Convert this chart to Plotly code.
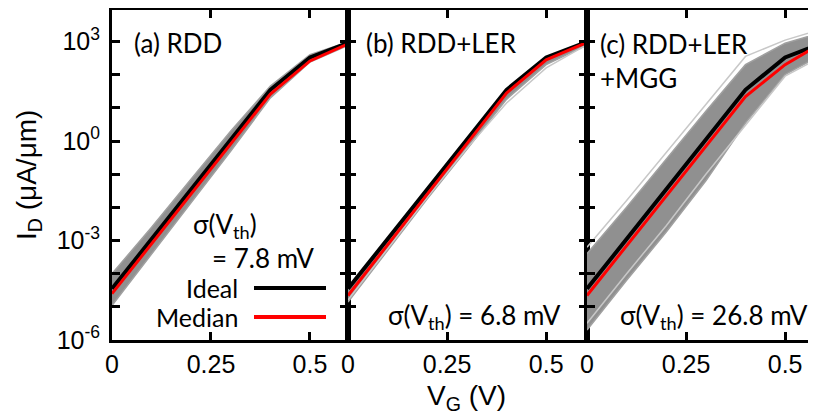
import plotly.graph_objects as go
from plotly.subplots import make_subplots

# Gate voltage (V)
vg = [0.0, 0.1, 0.2, 0.3, 0.4, 0.5, 0.6]

# Drain current (uA/um)
ideal = [3.5e-5, 1.1e-3, 3.5e-2, 1.1, 35, 330, 950]

median_a = [2.5e-5, 7.9e-4, 2.5e-2, 0.79, 26, 260, 890]
median_b = [2.2e-5, 7.6e-4, 2.5e-2, 0.83, 28, 280, 910]
median_c = [2.2e-5, 7.1e-4, 2.2e-2, 0.71, 22, 200, 1000]

band_a_upper = [1.0e-4, 2.5e-3, 7.1e-2, 2.0, 45, 400, 1000]
band_a_lower = [1.1e-5, 4.0e-4, 1.4e-2, 0.5, 20, 240, 800]

band_b_upper = [3.2e-5, 1.1e-3, 3.8e-2, 1.2, 35, 330, 950]
band_b_lower = [1.4e-5, 5.0e-4, 1.8e-2, 0.56, 18, 200, 760]
edge_b_lower = [1.6e-5, 5.6e-4, 2.0e-2, 0.6, 14, 160, 760]

band_c_upper = [4.0e-4, 1.0e-2, 0.28, 7.9, 200, 890, 2000]
band_c_lower = [2.0e-6, 6.3e-5, 1.8e-3, 6.3e-2, 3.5, 100, 450]
edge_c_upper = [6.3e-4, 1.6e-2, 0.45, 12.6, 355, 1100, 2500]
edge_c_lower = [3.2e-6, 1.0e-4, 2.8e-3, 0.1, 3.0, 90, 400]

panel_titles = ["(a) RDD", "(b) RDD+LER", "(c) RDD+LER<br>+MGG"]
sigma_vth = ["7.8", "6.8", "26.8"]

y_major_vals = [1e-6, 1e-3, 1, 1e3]
y_major_text = ["10<sup>-6</sup>", "10<sup>-3</sup>", "10<sup>0</sup>", "10<sup>3</sup>"]
y_minor_vals = [1e-5, 1e-4, 1e-2, 1e-1, 10, 100, 1e4]
x_tickvals = [0, 0.25, 0.5]
x_ticktext = ["0", "0.25", "0.5"]

# page has an 8px body margin; figure is sized so the plot lands where the reference has it
OFF = 8
W, H = 816 - OFF, 414 - OFF
L, R, T, B = 112 - OFF, 0, 10 - OFF, 414 - 340
PW, PH = W - L - R, H - T - B

def px(x):
    return (x - OFF - L) / PW

def py(y):
    return (H - B - (y - OFF)) / PH

fig = make_subplots(rows=1, cols=3, horizontal_spacing=0)

panels = [
    (median_a, band_a_upper, band_a_lower, []),
    (median_b, band_b_upper, band_b_lower, [edge_b_lower]),
    (median_c, band_c_upper, band_c_lower, [edge_c_upper, edge_c_lower]),
]

for i, (med, up, lo, edges) in enumerate(panels):
    col = i + 1
    fig.add_trace(go.Scatter(x=vg, y=lo, mode="lines", line=dict(color="#a0a0a0", width=1.5),
                             showlegend=False, hoverinfo="skip"), row=1, col=col)
    fig.add_trace(go.Scatter(x=vg, y=up, mode="lines", line=dict(color="#a0a0a0", width=1.5),
                             fill="tonexty", fillcolor="#909090",
                             showlegend=False, hoverinfo="skip"), row=1, col=col)
    for e in edges:
        fig.add_trace(go.Scatter(x=vg, y=e, mode="lines", line=dict(color="#c8c8c8", width=1.5),
                                 showlegend=False, hoverinfo="skip"), row=1, col=col)
    fig.add_trace(go.Scatter(x=vg, y=ideal, mode="lines", line=dict(color="black", width=4),
                             name="Ideal", showlegend=False), row=1, col=col)
    fig.add_trace(go.Scatter(x=vg, y=med, mode="lines", line=dict(color="#ff0000", width=3),
                             name="Median", showlegend=False), row=1, col=col)

edges_px = [112, 348, 587, 816]
x_ranges = [[0, 0.596], [0, 0.603], [0, 0.578]]
tick_font = dict(family="Liberation Sans, Arial", size=25, color="black")
for i in range(3):
    xa = "xaxis" if i == 0 else f"xaxis{i+1}"
    ya = "yaxis" if i == 0 else f"yaxis{i+1}"
    fig.layout[xa].update(
        domain=[px(edges_px[i]), min(1.0, px(edges_px[i + 1]))], range=x_ranges[i],
        tickvals=x_tickvals, ticktext=x_ticktext, ticks="inside", ticklen=8, tickwidth=3,
        tickcolor="black", showline=True, linecolor="black", linewidth=3, mirror="ticks",
        showgrid=False, zeroline=False, tickfont=tick_font,
    )
    fig.layout[ya].update(
        type="log", range=[-6, 3.95], tickvals=y_major_vals, ticktext=y_major_text,
        showticklabels=(i == 0), ticklabelstandoff=4,
        ticks="inside", ticklen=8, tickwidth=3, tickcolor="black",
        minor=dict(tickvals=y_minor_vals, ticks="inside", ticklen=8, tickwidth=3,
                   tickcolor="black", showgrid=False),
        showline=True, linecolor="black", linewidth=3,
        mirror=("ticks" if i < 2 else False),
        showgrid=False, zeroline=False, tickfont=tick_font,
    )

ann_font = dict(family="Lato, Open Sans", size=26, color="black")
leg_font = dict(family="Lato, Open Sans", size=25, color="black")
ax_font = dict(family="Liberation Sans, Arial", size=28, color="black")

annotations = [
    dict(x=px(132), y=py(43), text=panel_titles[0], xanchor="left", yanchor="middle", font=ann_font),
    dict(x=px(364), y=py(43), text=panel_titles[1], xanchor="left", yanchor="middle", font=ann_font),
    dict(x=px(598), y=py(61), text=panel_titles[2], xanchor="left", yanchor="middle", font=ann_font,
         align="left"),
    dict(x=px(191), y=py(225), text="σ(V<sub>th</sub>)", xanchor="left", yanchor="middle", font=ann_font),
    dict(x=px(210), y=py(258), text="= " + sigma_vth[0] + " mV", xanchor="left", yanchor="middle", font=ann_font),
    dict(x=px(240), y=py(288), text="Ideal", xanchor="right", yanchor="middle", font=leg_font),
    dict(x=px(240), y=py(317), text="Median", xanchor="right", yanchor="middle", font=leg_font),
    dict(x=px(386), y=py(316), text="σ(V<sub>th</sub>) = " + sigma_vth[1] + " mV", xanchor="left",
         yanchor="middle", font=ann_font),
    dict(x=px(618), y=py(316), text="σ(V<sub>th</sub>) = " + sigma_vth[2] + " mV", xanchor="left",
         yanchor="middle", font=ann_font),
    dict(x=px(28), y=py(175), text="I<sub>D</sub> (μA/μm)", textangle=-90, xanchor="center",
         yanchor="middle", font=ax_font),
    dict(x=px(466), y=py(397), text="V<sub>G</sub> (V)", xanchor="center", yanchor="middle", font=ax_font),
]
for a in annotations:
    a.update(xref="paper", yref="paper", showarrow=False)
fig.update_layout(annotations=annotations)

shapes = [
    dict(type="line", xref="paper", yref="paper", x0=px(254), x1=px(326), y0=py(288), y1=py(288),
         line=dict(color="black", width=4)),
    dict(type="line", xref="paper", yref="paper", x0=px(254), x1=px(326), y0=py(317), y1=py(317),
         line=dict(color="#ff0000", width=4)),
]
fig.update_layout(shapes=shapes)

fig.update_layout(
    width=W, height=H, margin=dict(l=L, r=R, t=T, b=B),
    paper_bgcolor="white", plot_bgcolor="white", showlegend=False,
)

fig.write_html("out.html")
